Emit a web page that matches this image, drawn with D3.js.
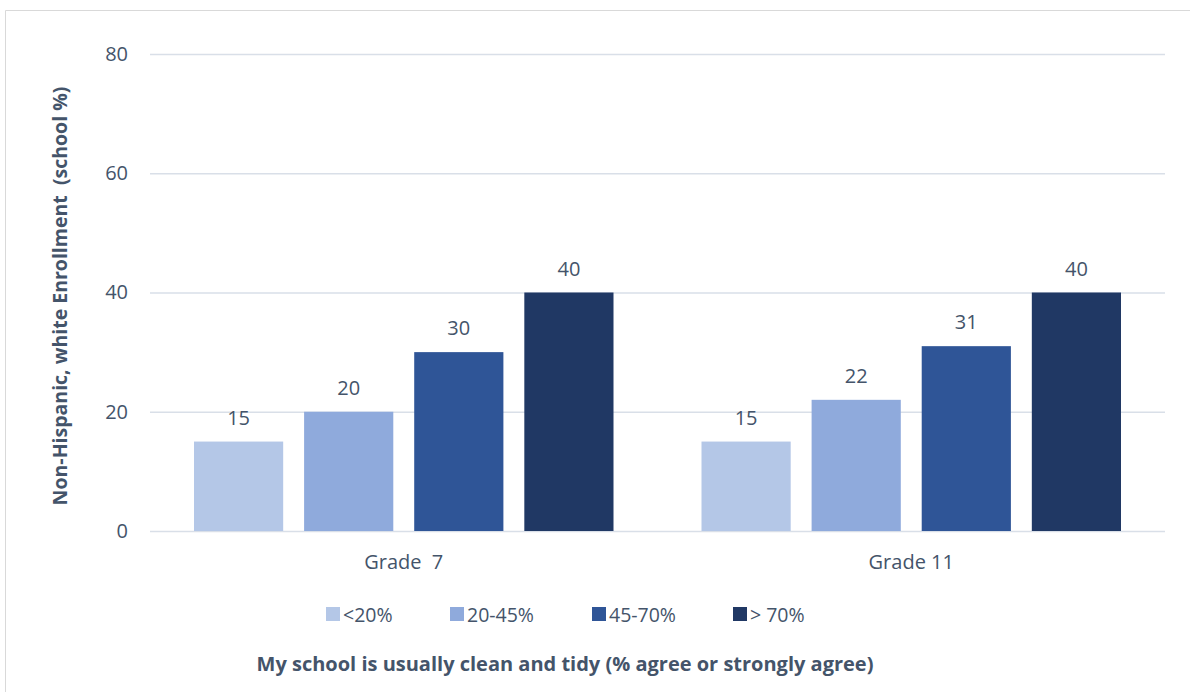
<!DOCTYPE html>
<html><head><meta charset="utf-8">
<script src="https://cdn.jsdelivr.net/npm/d3@7"></script>
<style>body{margin:0;background:#fff}svg{display:block}</style>
</head><body>
<svg id="c" width="1190" height="692"></svg>
<script>
const categories = ["Grade  7", "Grade 11"];
const seriesNames = ["<20%", "20-45%", "45-70%", "> 70%"];
const seriesColors = ["#B4C7E7", "#8FAADC", "#2F5597", "#203864"];
const grade7Values = [15, 20, 30, 40];
const grade11Values = [15, 22, 31, 40];
const yTicks = [0, 20, 40, 60, 80];
const yTitle = "Non-Hispanic, white Enrollment  (school %)";
const xTitle = "My school is usually clean and tidy (% agree or strongly agree)";

(function(){
const valuesByCat = [grade7Values, grade11Values];
const svg = d3.select("#c");
const font = "'Open Sans', sans-serif";
const textColor = "#44546A";

svg.append("path").attr("d","M5.5,692 V10.5 H1190").attr("fill","none").attr("stroke","#D9D9D9").attr("stroke-width",1);

const pL = 150, pR = 1165, pT = 54, pB = 531;
const x0 = d3.scaleBand().domain(categories).range([pL, pR]).paddingInner(0).paddingOuter(0);
const x1 = d3.scaleBand().domain(seriesNames).range([44, x0.bandwidth()-44]).paddingInner(0.19).paddingOuter(0);
const y = d3.scaleLinear().domain([0, 80]).range([pB, pT]);

const yAxis = d3.axisLeft(y).tickValues(yTicks).tickSize(-(pR-pL)).tickPadding(22);
const gY = svg.append("g").attr("transform",`translate(${pL},0)`).call(yAxis);
gY.select(".domain").remove();
gY.selectAll(".tick line").attr("stroke","#D9DFE8").attr("stroke-width",1.5);
gY.selectAll(".tick text").attr("fill",textColor).style("font-family",font).style("font-size","20px");

const groups = svg.append("g").selectAll("g").data(categories).join("g")
  .attr("transform", d => `translate(${x0(d)},0)`);
groups.each(function(cat, ci){
  const g = d3.select(this);
  const vals = valuesByCat[ci];
  g.selectAll("rect").data(seriesNames).join("rect")
    .attr("x", s => x1(s)).attr("width", x1.bandwidth())
    .attr("y", (s,i) => y(vals[i])).attr("height", (s,i) => y(0)-y(vals[i]))
    .attr("fill", (s,i) => seriesColors[i]);
  g.selectAll("text").data(seriesNames).join("text")
    .attr("x", s => x1(s)+x1.bandwidth()/2)
    .attr("y", (s,i) => y(vals[i]) - 17)
    .attr("text-anchor","middle").attr("fill",textColor)
    .style("font-family",font).style("font-size","20px")
    .text((s,i) => vals[i]);
});

const xAxis = d3.axisBottom(x0).tickSize(0).tickPadding(24);
const gX = svg.append("g").attr("transform",`translate(0,${pB})`).call(xAxis);
gX.select(".domain").remove();
gX.selectAll(".tick text").attr("fill",textColor).style("font-family",font).style("font-size","20px").style("white-space","pre");

svg.append("text").attr("transform",`translate(67,${(87+505)/2}) rotate(-90)`)
  .attr("text-anchor","middle").attr("fill",textColor)
  .style("font-family",font).style("font-size","19.5px").style("font-weight","bold").style("white-space","pre")
  .text(yTitle);

const legendX = [326, 450, 592, 733];
const lg = svg.append("g").selectAll("g").data(seriesNames).join("g")
  .attr("transform",(d,i)=>`translate(${legendX[i]},607)`);
lg.append("rect").attr("width",14).attr("height",14).attr("fill",(d,i)=>seriesColors[i]);
lg.append("text").attr("x",17).attr("y",14.5).attr("fill",textColor)
  .style("font-family",font).style("font-size","19.5px").text(d=>d);

svg.append("text").attr("x",565).attr("y",671).attr("text-anchor","middle").attr("fill",textColor)
  .style("font-family",font).style("font-size","20px").style("font-weight","bold").text(xTitle);
})();
</script>
</body></html>
